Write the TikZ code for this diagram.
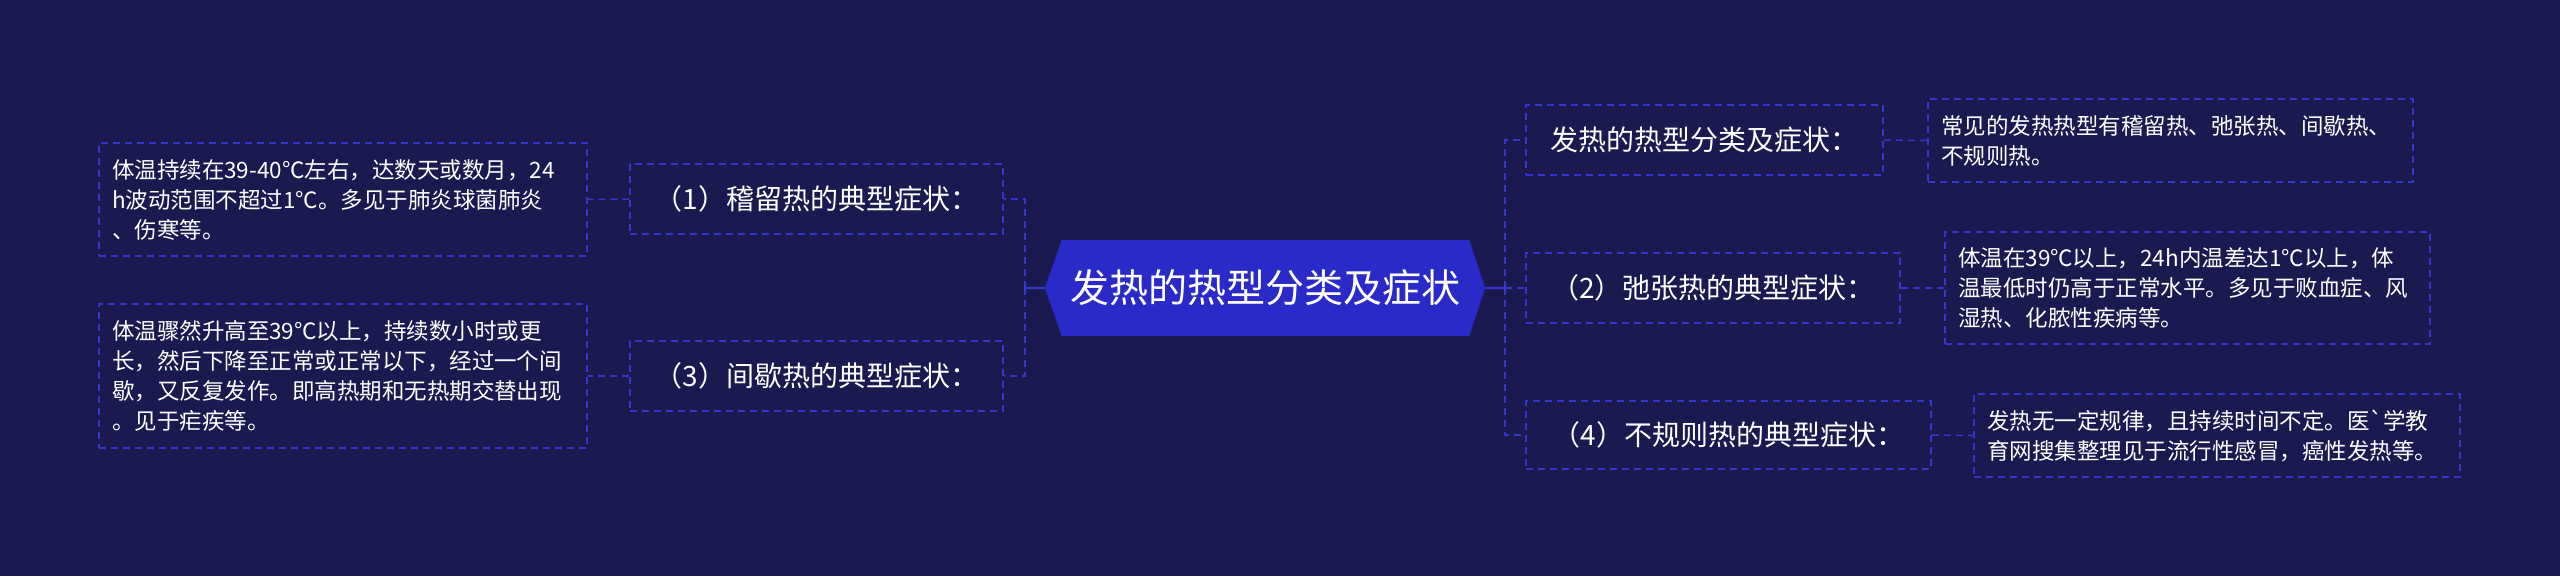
\documentclass[tikz,border=0pt]{standalone}
\usepackage{fontspec}
\setmainfont{Noto Sans CJK SC}[Ligatures=TeXOff]
\definecolor{bgc}{HTML}{1A1A50}
\definecolor{hexc}{HTML}{2A2AC8}
\definecolor{linec}{HTML}{3535D0}
\tikzset{
  box/.style={draw=linec, line width=1.5pt, dash pattern=on 7pt off 5pt, text=white, inner sep=0pt, anchor=center},
  labelbox/.style={box, font=\fontsize{28}{34}\selectfont, align=center},
  detailbox/.style={box, font=\fontsize{22.5}{30}\selectfont, align=left, inner xsep=13pt, inner ysep=0pt},
  dlink/.style={draw=linec, line width=1.5pt, dash pattern=on 7pt off 5pt},
  slink/.style={draw=linec, line width=2pt},
}
\begin{document}
\begin{tikzpicture}[x=1pt,y=-1pt]
\fill[bgc] (0,0) rectangle (2560,576);
\useasboundingbox (0,0) rectangle (2560,576);
% center
\node[minimum width=440pt, minimum height=96pt, inner sep=0pt] (c) at (1265,288) {};
\fill[hexc] ([xshift=17pt]c.north west) -- ([xshift=-16pt]c.north east) -- (c.east) -- ([xshift=-16pt]c.south east) -- ([xshift=17pt]c.south west) -- (c.west) -- cycle;
\node[text=white, font=\fontsize{39}{44}\selectfont] (ct) at (c) {发热的热型分类及症状};
% left labels
\node[labelbox, minimum width=373pt, minimum height=70pt] (l1) at (816.5,199) {（1）稽留热的典型症状：};
\node[labelbox, minimum width=373pt, minimum height=70pt] (l3) at (816.5,376) {（3）间歇热的典型症状：};
% left details
\node[detailbox, text width=462pt, minimum height=113pt] (d1) at (343,199.5) {体温持续在39-40℃左右，达数天或数月，24\\h波动范围不超过1℃。多见于肺炎球菌肺炎\\、伤寒等。};
\node[detailbox, text width=462pt, minimum height=144pt] (d3) at (343,376) {体温骤然升高至39℃以上，持续数小时或更\\长，然后下降至正常或正常以下，经过一个间\\歇，又反复发作。即高热期和无热期交替出现\\。见于疟疾等。};
% right labels
\node[labelbox, minimum width=357pt, minimum height=70pt] (ra) at (1704.5,140) {发热的热型分类及症状：};
\node[labelbox, minimum width=374pt, minimum height=70pt] (r2) at (1713,288) {（2）弛张热的典型症状：};
\node[labelbox, minimum width=405pt, minimum height=68pt] (r4) at (1728.5,435) {（4）不规则热的典型症状：};
% right details
\node[detailbox, text width=459pt, minimum height=83pt] (da) at (2170.5,140.5) {常见的发热热型有稽留热、弛张热、间歇热、\\不规则热。};
\node[detailbox, text width=459pt, minimum height=112pt] (d2) at (2187.5,288) {体温在39℃以上，24h内温差达1℃以上，体\\温最低时仍高于正常水平。多见于败血症、风\\湿热、化脓性疾病等。};
\node[detailbox, text width=460pt, minimum height=83pt] (d4) at (2217,435.5) {发热无一定规律，且持续时间不定。医\symbol{96}学教\\育网搜集整理见于流行性感冒，癌性发热等。};
% junctions
\coordinate (jl) at (1025,288);
\coordinate (jr) at (1505,288);
\draw[slink] (c.west) -- (jl);
\draw[slink] (c.east) -- (jr);
\draw[dlink] (jl) |- (l1.east);
\draw[dlink] (jl) |- (l3.east);
\draw[dlink] (jr) |- (ra.west);
\draw[dlink] (jr) -- (r2.west);
\draw[dlink] (jr) |- (r4.west);
\draw[dlink] (l1.west) -- (d1.east);
\draw[dlink] (l3.west) -- (d3.east);
\draw[dlink] (ra.east) -- (da.west);
\draw[dlink] (r2.east) -- (d2.west);
\draw[dlink] (r4.east) -- (d4.west);
\end{tikzpicture}
\end{document}
